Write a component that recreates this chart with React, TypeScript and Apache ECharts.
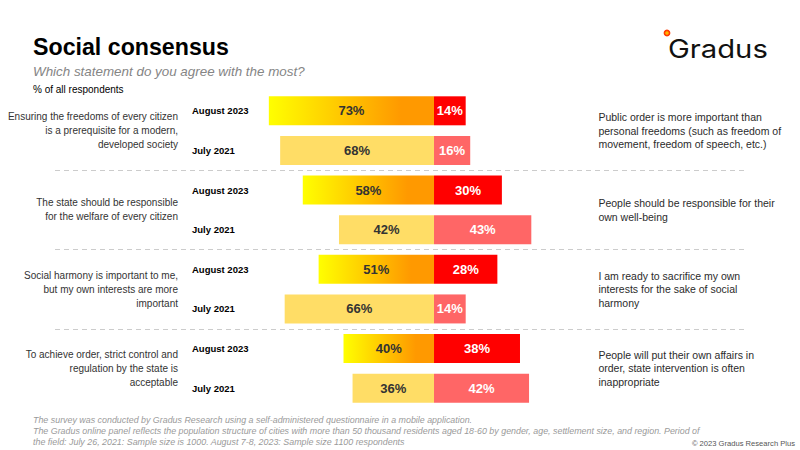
import React, { useEffect, useRef } from "react";
import * as echarts from "echarts";

const periods = ["August 2023", "July 2021"];
const leftStatements = [
  "Ensuring the freedoms of every citizen\nis a prerequisite for a modern,\ndeveloped society",
  "The state should be responsible\nfor the welfare of every citizen",
  "Social harmony is important to me,\nbut my own interests are more\nimportant",
  "To achieve order, strict control and\nregulation by the state is\nacceptable",
];
const rightStatements = [
  "Public order is more important than\npersonal freedoms (such as freedom of\nmovement, freedom of speech, etc.)",
  "People should be responsible for their\nown well-being",
  "I am ready to sacrifice my own\ninterests for the sake of social\nharmony",
  "People will put their own affairs in\norder, state intervention is often\ninappropriate",
];
// rows: Aug 2023, Jul 2021 for each statement pair
const leftValues = [73, 68, 58, 42, 51, 66, 40, 36];
const rightValues = [14, 16, 30, 43, 28, 14, 38, 42];

const footerLines = [
  "The survey was conducted by Gradus Research using a self-administered questionnaire in a mobile application.",
  "The Gradus online panel reflects the population structure of cities with more than 50 thousand residents aged 18-60 by gender, age, settlement size, and region. Period of",
  "the field: July 26, 2021: Sample size is 1000. August 7-8, 2023: Sample size 1100 respondents",
];

const FONT = "'Liberation Sans', Arial, sans-serif";

const App: React.FC = () => {
  const chartRef = useRef<HTMLDivElement | null>(null);

  useEffect(() => {
    if (!chartRef.current) return;
    const chart = echarts.init(chartRef.current, null, { renderer: "svg" });

    const rows = leftStatements.flatMap((_, g) => periods.map((p) => `${g}|${p}`));

    const augGradient = new echarts.graphic.LinearGradient(0, 0, 1, 0, [
      { offset: 0, color: "#FFFF00" },
      { offset: 0.8, color: "#FF9900" },
      { offset: 1, color: "#FF9900" },
    ]);

    const options = {
      animation: false,
      textStyle: { fontFamily: FONT },
      grid: [
        { left: 253, right: 207.6, top: 91, height: 317, outerBoundsMode: "none" },
        { left: 55, right: 55, top: 91, height: 317, outerBoundsMode: "none" },
      ],
      xAxis: [
        { type: "value", min: -80, max: 70, show: false, gridIndex: 0 },
        { type: "value", min: 0, max: 1, show: false, gridIndex: 1 },
      ],
      yAxis: [
        {
          type: "category",
          gridIndex: 0,
          data: rows,
          inverse: true,
          axisLine: { show: false },
          axisTick: { show: false },
          axisLabel: {
            align: "left",
            margin: 61,
            fontSize: 9.5,
            fontWeight: "bold",
            color: "#000",
            fontFamily: FONT,
            formatter: (v: string) => v.split("|")[1],
          },
        },
        {
          type: "category",
          gridIndex: 0,
          position: "left",
          data: leftStatements,
          inverse: true,
          axisLine: { show: false },
          axisTick: { show: false },
          axisLabel: {
            align: "right",
            margin: 75,
            fontSize: 10,
            lineHeight: 14,
            color: "#333",
            fontFamily: FONT,
          },
        },
        {
          type: "category",
          gridIndex: 0,
          position: "right",
          data: rightStatements,
          inverse: true,
          axisLine: { show: false },
          axisTick: { show: false },
          axisLabel: {
            align: "left",
            margin: 6,
            fontSize: 10.5,
            lineHeight: 13.5,
            color: "#2b2b2b",
            fontFamily: FONT,
          },
        },
        {
          type: "category",
          gridIndex: 1,
          data: leftStatements,
          inverse: true,
          axisLine: { show: false },
          axisTick: { show: false },
          axisLabel: { show: false },
          splitLine: {
            show: true,
            showMinLine: false,
            showMaxLine: false,
            lineStyle: { color: "#cccccc", type: [5, 4], width: 1 },
          },
        },
      ],
      series: [
        {
          type: "bar",
          stack: "s",
          xAxisIndex: 0,
          yAxisIndex: 0,
          barWidth: 29,
          data: leftValues.map((v, i) => ({
            value: -v,
            itemStyle: { color: i % 2 === 0 ? augGradient : "#FFDD66" },
          })),
          label: {
            show: true,
            position: "inside",
            formatter: (p: any) => `${Math.abs(p.value)}%`,
            color: "#333",
            fontWeight: "bold",
            fontSize: 13,
            fontFamily: FONT,
          },
        },
        {
          type: "bar",
          stack: "s",
          xAxisIndex: 0,
          yAxisIndex: 0,
          barWidth: 29,
          data: rightValues.map((v, i) => ({
            value: v,
            itemStyle: { color: i % 2 === 0 ? "#FF0000" : "#FF6666" },
          })),
          label: {
            show: true,
            position: "inside",
            formatter: (p: any) => `${p.value}%`,
            color: "#fff",
            fontWeight: "bold",
            fontSize: 13,
            fontFamily: FONT,
          },
        },
      ],
      graphic: [
        {
          type: "text",
          x: 33,
          y: 47,
          style: {
            text: "Social consensus",
            fontSize: 23.2,
            fontWeight: "bold",
            fill: "#000",
            fontFamily: FONT,
            verticalAlign: "middle",
          },
        },
        {
          type: "text",
          x: 33,
          y: 71,
          style: {
            text: "Which statement do you agree with the most?",
            fontSize: 13.4,
            fontStyle: "italic",
            fill: "#858585",
            fontFamily: FONT,
            verticalAlign: "middle",
          },
        },
        {
          type: "text",
          x: 33,
          y: 89,
          style: {
            text: "% of all respondents",
            fontSize: 10,
            fill: "#000",
            fontFamily: FONT,
            verticalAlign: "middle",
          },
        },
        {
          type: "circle",
          shape: { cx: 667, cy: 33, r: 2.6 },
          style: { fill: "#FFB400", stroke: "#FF3A00", lineWidth: 1.6 },
        },
        {
          type: "text",
          x: 668,
          y: 49,
          scaleX: 1.17,
          style: {
            text: "Gradus",
            fontSize: 25,
            fill: "#111",
            fontFamily: "Inter, sans-serif",
            verticalAlign: "middle",
          },
        },
        ...footerLines.map((t, i) => ({
          type: "text",
          x: 33,
          y: 420 + i * 11,
          style: {
            text: t,
            fontSize: 8.9,
            fontStyle: "italic",
            fill: "#9a9a9a",
            fontFamily: FONT,
            verticalAlign: "middle",
          },
        })),
        {
          type: "text",
          x: 795,
          y: 443,
          style: {
            text: "© 2023 Gradus Research Plus",
            fontSize: 7.6,
            fill: "#555",
            fontFamily: FONT,
            align: "right",
            verticalAlign: "middle",
          },
        },
      ],
    };

    chart.setOption(options as any);

    return () => {
      chart.dispose();
    };
  }, []);

  return (
    <div
      ref={chartRef}
      style={{ position: "fixed", left: 0, top: 0, width: "800px", height: "450px", background: "#fff" }}
    />
  );
};

export default App;
